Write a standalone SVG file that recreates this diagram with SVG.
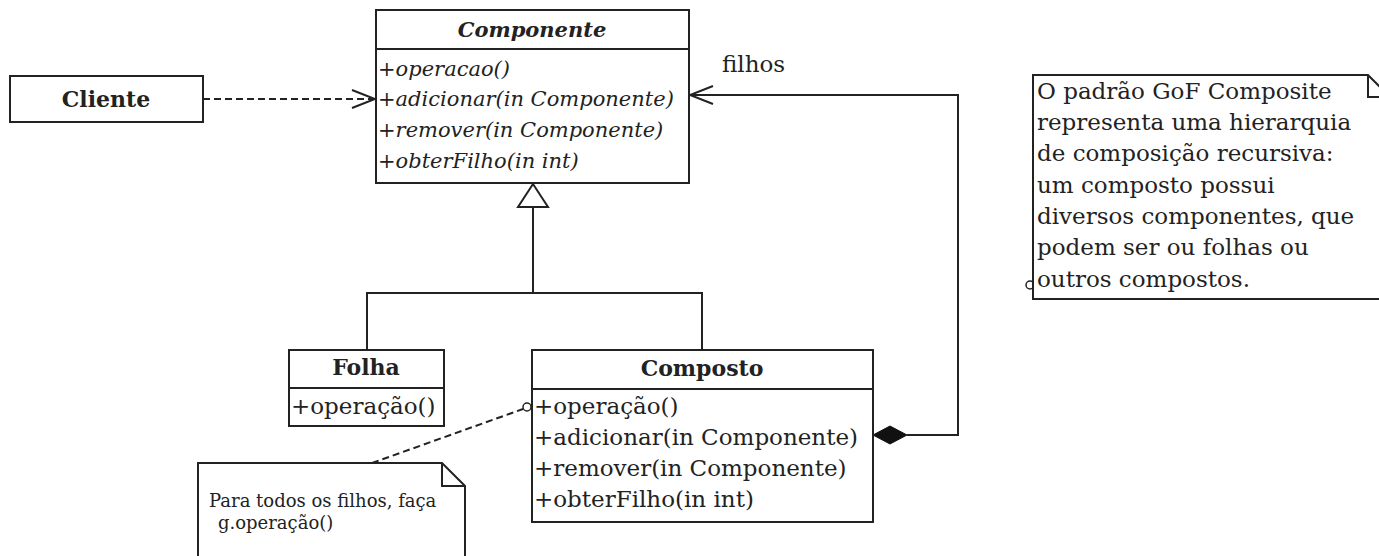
<svg xmlns="http://www.w3.org/2000/svg" width="1379" height="556" viewBox="0 0 1379 556">
<defs>
<style>
.box{fill:#fff;stroke:#222;stroke-width:2}
.ln{fill:none;stroke:#222;stroke-width:2}
.dash{fill:none;stroke:#222;stroke-width:2;stroke-dasharray:7,4}
text{font-family:"DejaVu Serif","Liberation Serif",serif;fill:#222}
.title{font-weight:bold;font-size:22px;text-anchor:middle}
.m{font-size:23px}
.mi{font-size:21px;font-style:italic}
.note{font-size:23px}
</style>
<marker id="open" markerWidth="26" markerHeight="20" refX="24" refY="10" orient="auto" markerUnits="userSpaceOnUse">
<path d="M1,1 L24,10 L1,19" fill="none" stroke="#222" stroke-width="2"/>
</marker>
</defs>

<g id="connectors">
<path class="dash" d="M203,99 H375" marker-end="url(#open)"/>
<path class="ln" d="M907,435 H958 V95 H690" marker-end="url(#open)"/>
<polygon points="873,435 890,426 907,435 890,444" fill="#111" stroke="#111" stroke-width="1"/>
<path class="ln" d="M533,207 V293 M367,350 V293 H702 V350"/>
<polygon points="533,184 518,207 548,207" fill="#fff" stroke="#222" stroke-width="2"/>
<path class="dash" d="M372,463 L523,409"/>
<circle cx="527" cy="407" r="4" fill="#fff" stroke="#222" stroke-width="1.5"/>
<circle cx="1030" cy="285" r="4" fill="#fff" stroke="#222" stroke-width="1.5"/>
<text x="722" y="72" class="m">filhos</text>
</g>

<g id="cliente">
<rect class="box" x="10" y="76" width="193" height="46"/>
<text x="106" y="107" class="title">Cliente</text>
</g>

<g id="componente">
<rect class="box" x="376" y="10" width="313" height="173"/>
<line class="ln" x1="376" y1="49" x2="689" y2="49"/>
<text x="532" y="37" class="title" style="font-style:italic;font-size:21px">Componente</text>
<text x="378" y="76" class="mi">+operacao()</text>
<text x="378" y="106" class="mi">+adicionar(in Componente)</text>
<text x="378" y="137" class="mi">+remover(in Componente)</text>
<text x="378" y="168" class="mi">+obterFilho(in int)</text>
</g>

<g id="folha">
<rect class="box" x="289" y="350" width="155" height="76"/>
<line class="ln" x1="289" y1="388" x2="444" y2="388"/>
<text x="366" y="375" class="title">Folha</text>
<text x="291" y="414" class="m">+operação()</text>
</g>

<g id="composto">
<rect class="box" x="532" y="350" width="341" height="172"/>
<line class="ln" x1="532" y1="389" x2="873" y2="389"/>
<text x="702" y="376" class="title">Composto</text>
<text x="534" y="414" class="m">+operação()</text>
<text x="534" y="445" class="m">+adicionar(in Componente)</text>
<text x="534" y="476" class="m">+remover(in Componente)</text>
<text x="534" y="507" class="m">+obterFilho(in int)</text>
</g>

<g id="nota-composite">
<path class="box" d="M1033,299 V75 H1368 L1390,97 V299 Z"/>
<path class="ln" d="M1368,75 V97 H1390"/>
<text x="1037" y="99" class="note">O padrão GoF Composite</text>
<text x="1037" y="130" class="note">representa uma hierarquia</text>
<text x="1037" y="161" class="note">de composição recursiva:</text>
<text x="1037" y="193" class="note">um composto possui</text>
<text x="1037" y="224" class="note">diversos componentes, que</text>
<text x="1037" y="255" class="note">podem ser ou folhas ou</text>
<text x="1037" y="287" class="note">outros compostos.</text>
</g>

<g id="nota-operacao">
<path class="box" d="M198,560 V463 H442 L465,486 V560"/>
<path class="ln" d="M442,463 V486 H465"/>
<text x="209" y="507" style="font-size:18px">Para todos os filhos, faça</text>
<text x="218" y="529" style="font-size:18px">g.operação()</text>
</g>
</svg>
